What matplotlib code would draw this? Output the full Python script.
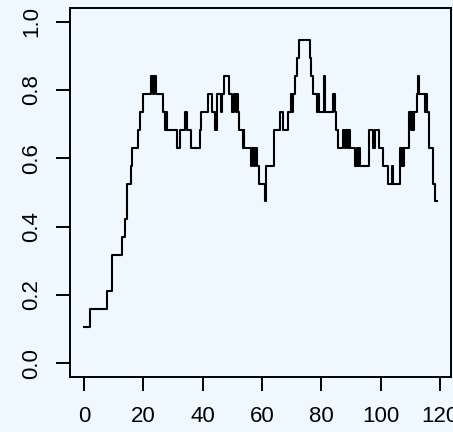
import matplotlib
matplotlib.use("Agg")
import matplotlib.pyplot as plt
import numpy as np

# step positions and the count (out of 19) held from each position onward
step_x = [0, 2, 7.8, 9.4, 12.8, 13.9, 14.4, 15.8, 16.2, 18.1, 18.7, 19.8,
          22.6, 23.3, 23.6, 24.4, 26.7, 27.2, 27.5, 27.8, 31.2, 32.3, 34.0,
          34.8, 35.9, 39.1, 39.4, 41.9, 43.2, 44.3, 44.7, 46.2, 46.6, 47.2,
          49.0, 49.8, 50.4, 51.4, 51.7, 52.0, 52.3, 53.5, 53.8, 54.1, 56.3,
          56.8, 57.3, 57.8, 58.3, 59.0, 60.9, 61.5, 64.2, 66.1, 67.0, 68.7,
          69.8, 70.2, 70.6, 71.2, 71.8, 72.4, 76.2, 76.7, 77.2, 78.6, 79.0,
          79.4, 80.9, 81.3, 84.0, 84.5, 85.1, 85.6, 87.3, 88.0, 88.3, 89.0,
          89.3, 89.8, 91.5, 91.9, 92.3, 92.7, 93.1, 96.0, 97.5, 98.1, 99.5,
          100.9, 102.6, 103.7, 104.3, 106.6, 106.9, 107.3, 107.6, 107.9,
          109.7, 110.1, 110.5, 110.9, 111.3, 112.2, 112.6, 113.0, 115.0,
          115.4, 115.8, 116.5, 117.8, 118.4, 119]
hits = [2, 3, 4, 6, 7, 8, 10, 11, 12, 13, 14, 15,
        16, 15, 16, 15, 14, 13, 14, 13, 12, 13, 14,
        13, 12, 13, 14, 15, 14, 13, 15, 14, 15, 16,
        15, 14, 15, 14, 15, 14, 13, 12, 13, 12, 11,
        12, 11, 12, 11, 10, 9, 11, 13, 14, 13, 14,
        15, 14, 15, 16, 17, 18, 17, 16, 15, 14, 15,
        14, 16, 14, 15, 14, 13, 12, 13, 12, 13, 12,
        13, 12, 11, 12, 11, 12, 11, 13, 12, 13, 12,
        11, 10, 11, 10, 12, 11, 12, 11, 12,
        14, 13, 14, 13, 14, 15, 16, 15, 14,
        15, 14, 12, 10, 9, 9]
window = 19

x_ticks = [0, 20, 40, 60, 80, 100, 120]
y_ticks = [0.0, 0.2, 0.4, 0.6, 0.8, 1.0]

bg = "#F0F8FF"
plt.rcParams["font.family"] = ["Liberation Sans", "DejaVu Sans"]

fig = plt.figure(figsize=(4.53, 4.32), dpi=100, facecolor=bg)
ax = fig.add_axes([70 / 453, 1 - 377 / 432, 381 / 453, 369 / 432])
ax.set_facecolor(bg)

frac = np.array(hits) / window
ax.step(step_x, frac, where="post", color="black", lw=1.5)

ax.set_xlim(-4.76, 123.76)
ax.set_ylim(-0.04, 1.04)
ax.set_xticks(x_ticks)
ax.set_yticks(y_ticks)
ax.set_xticklabels([str(v) for v in x_ticks])
ax.set_yticklabels(["%.1f" % v for v in y_ticks], rotation=90, va="center")

for s in ax.spines.values():
    s.set_linewidth(1.4)
ax.tick_params(axis="both", length=10, width=1.4, labelsize=16, color="black")
ax.tick_params(axis="x", pad=11)
ax.tick_params(axis="y", pad=10)

fig.savefig("out.png", dpi=100, facecolor=bg)
